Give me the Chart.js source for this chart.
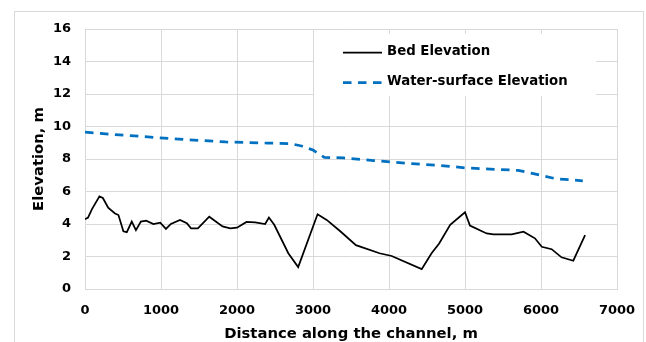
<!DOCTYPE html>
<html>
<head>
<meta charset="utf-8">
<script src="https://cdn.jsdelivr.net/npm/chart.js@4"></script>
<style>
    html, body { margin: 0; padding: 0; background: #fff; }
    canvas { display: block; }
</style>
</head>
<body>
<canvas id="profileChart" width="646" height="342"></canvas>
<script>
const bedDistance = [0, 40, 90, 190, 235, 305, 395, 440, 505, 550, 615, 670, 735, 805, 900, 990, 1065, 1130, 1250, 1340,
    1395, 1485, 1635, 1810, 1910, 2000, 2125, 2240, 2370, 2420, 2490, 2675, 2805, 3060, 3180, 3355, 3565, 3875, 4035, 4430,
    4560, 4660, 4805, 5000, 5065, 5285, 5375, 5615, 5770, 5920, 6010, 6140, 6270, 6425, 6580];
const bedElevation = [4.3, 4.4, 4.9, 5.7, 5.6, 5.0, 4.65, 4.55, 3.55, 3.5, 4.15, 3.62, 4.15, 4.2, 4.0, 4.08, 3.7, 4.0, 4.25, 4.05,
    3.73, 3.73, 4.45, 3.85, 3.73, 3.77, 4.13, 4.1, 4.0, 4.4, 3.95, 2.2, 1.35, 4.6, 4.25, 3.57, 2.7, 2.2, 2.03, 1.22,
    2.2, 2.8, 3.95, 4.72, 3.9, 3.42, 3.36, 3.36, 3.53, 3.12, 2.6, 2.45, 1.95, 1.74, 3.32];

const wsDistance = [0, 200, 650, 1300, 1850, 2400, 2700, 2850, 3000, 3150, 3400, 3800, 4300, 4800, 5000, 5700, 5900, 6200, 6550];
const wsElevation = [9.65, 9.57, 9.42, 9.2, 9.05, 8.98, 8.95, 8.8, 8.55, 8.1, 8.07, 7.9, 7.72, 7.55, 7.45, 7.3, 7.1, 6.78, 6.66];

const seriesNames = ['Bed Elevation', 'Water-surface Elevation'];
const xTitle = 'Distance along the channel, m';
const yTitle = 'Elevation, m';

const GRID = '#d9d9d9';
const BLUE = '#0070c0';
const FONT = "'DejaVu Sans', sans-serif";

function toPoints(xs, ys) {
    return xs.map((x, i) => ({ x: x, y: ys[i] }));
}

// grey frame round the whole chart
const framePlugin = {
    id: 'frame',
    beforeDraw(chart) {
        const ctx = chart.ctx;
        ctx.save();
        ctx.strokeStyle = GRID;
        ctx.lineWidth = 1;
        ctx.strokeRect(14.5, 11.5, 629, 340);
        ctx.restore();
    }
};

// legend box sitting inside the plot, like the Excel one
const boxLegend = {
    id: 'boxLegend',
    afterDatasetsDraw(chart) {
        const ctx = chart.ctx;
        const sets = chart.data.datasets;
        ctx.save();
        ctx.fillStyle = '#fff';
        ctx.fillRect(314, 34, 282, 62);
        ctx.font = 'bold 13.3px ' + FONT;
        ctx.textBaseline = 'middle';
        ctx.textAlign = 'left';
        [52, 82].forEach((y, i) => {
            const ds = sets[i];
            ctx.beginPath();
            ctx.strokeStyle = ds.borderColor;
            ctx.lineWidth = ds.borderWidth;
            ctx.setLineDash(ds.borderDash || []);
            ctx.moveTo(343, y + 0.5);
            ctx.lineTo(382, y + 0.5);
            ctx.stroke();
            ctx.setLineDash([]);
            ctx.fillStyle = '#000';
            ctx.fillText(ds.label, 387, y);
        });
        ctx.restore();
    }
};

new Chart(document.getElementById('profileChart'), {
    type: 'line',
    data: {
        datasets: [{
            label: seriesNames[0],
            data: toPoints(bedDistance, bedElevation),
            borderColor: '#000',
            borderWidth: 1.75,
            pointRadius: 0,
            tension: 0,
            fill: false
        }, {
            label: seriesNames[1],
            data: toPoints(wsDistance, wsElevation),
            borderColor: BLUE,
            borderWidth: 2.75,
            borderDash: [8.5, 6.5],
            borderCapStyle: 'butt',
            pointRadius: 0,
            tension: 0,
            fill: false
        }]
    },
    options: {
        responsive: false,
        devicePixelRatio: 1,
        animation: false,
        events: [],
        layout: { padding: { left: 0, top: 29, right: 29, bottom: 0 } },
        plugins: {
            legend: { display: false },
            tooltip: { enabled: false }
        },
        scales: {
            x: {
                type: 'linear',
                min: 0,
                max: 7000,
                afterFit(scale) {
                    scale.height = 53;
                    scale.paddingLeft = 0;
                    scale.paddingRight = 0;
                },
                ticks: {
                    stepSize: 1000,
                    padding: 14,
                    color: '#000',
                    font: { family: FONT, size: 13, weight: 'bold' },
                    callback: (v) => String(v)
                },
                grid: { color: GRID, drawTicks: false },
                border: { color: GRID },
                title: {
                    display: true,
                    text: xTitle,
                    color: '#000',
                    padding: 0,
                    font: { family: FONT, size: 14.8, weight: 'bold', lineHeight: 1 }
                }
            },
            y: {
                min: 0,
                max: 16,
                afterFit(scale) {
                    scale.width = 85;
                    scale.paddingTop = 0;
                    scale.paddingBottom = 0;
                },
                ticks: {
                    stepSize: 2,
                    padding: 14,
                    color: '#000',
                    font: { family: FONT, size: 13, weight: 'bold' },
                    callback: (v) => String(v)
                },
                grid: { color: GRID, drawTicks: false },
                border: { color: GRID },
                title: {
                    display: true,
                    text: yTitle,
                    color: '#000',
                    padding: { top: 32, bottom: 0 },
                    font: { family: FONT, size: 14.8, weight: 'bold', lineHeight: 1 }
                }
            }
        }
    },
    plugins: [framePlugin, boxLegend]
});
</script>
</body>
</html>
